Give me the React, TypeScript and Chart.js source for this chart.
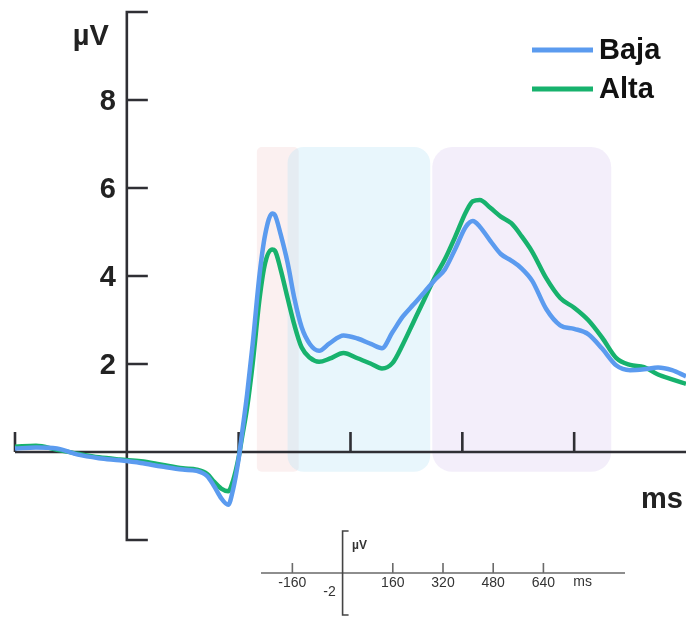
import React, { useEffect, useRef } from "react";
import { Chart, registerables } from "chart.js";

Chart.register(...registerables);

// ---- data (time in ms, amplitude in µV) ----
const times = [
  -160, -130, -100, -70, -40, -10, 20, 50, 80, 100, 115, 125, 135, 145, 152, 160, 165, 172,
  180, 190, 198, 208, 212, 220, 230, 240, 250, 262, 275, 290, 310, 330, 350, 365, 380, 395,
  410, 425, 440, 455, 470, 485, 495, 505, 520, 535, 550, 565, 580, 600, 620, 640, 660, 680,
  700, 720, 740, 760, 780, 800,
];
const baja = [
  0.08, 0.1, 0.08, -0.06, -0.14, -0.19, -0.25, -0.33, -0.4, -0.43, -0.55, -0.78, -1.05, -1.2,
  -0.85, -0.15, 0.45, 1.3, 2.45, 4.05, 4.95, 5.42, 5.38, 4.95, 4.3, 3.47, 2.84, 2.45, 2.3,
  2.47, 2.65, 2.58, 2.45, 2.36, 2.72, 3.08, 3.35, 3.62, 3.9, 4.15, 4.62, 5.12, 5.25, 5.12,
  4.8, 4.5, 4.35, 4.17, 3.89, 3.25, 2.88, 2.8, 2.68, 2.35, 1.97, 1.86, 1.88, 1.92, 1.86, 1.72,
];
const alta = [
  0.12, 0.14, 0.05, -0.04, -0.12, -0.17, -0.21, -0.29, -0.37, -0.4, -0.5, -0.68, -0.83, -0.89,
  -0.65, -0.12, 0.35, 1.0, 2.0, 3.5, 4.3, 4.6, 4.57, 4.15, 3.5, 2.87, 2.38, 2.14, 2.05, 2.12,
  2.25, 2.13, 2.0, 1.9, 2.02, 2.45, 2.95, 3.45, 3.95, 4.38, 4.9, 5.45, 5.7, 5.73, 5.55, 5.35,
  5.2, 4.9, 4.55, 3.95, 3.5, 3.28, 3.0, 2.6, 2.14, 1.98, 1.93, 1.76, 1.65, 1.55,
];
const seriesLabels = ["Baja", "Alta"];
const seriesColors = ["#5b9bef", "#17b26d"];

const yTickValues = [2, 4, 6, 8];
const xTickValues = [-160, 160, 320, 480, 640];

// shaded windows (ms)
const regionStarts = [186, 230, 437];
const regionEnds = [246, 434, 693];
const regionTop = 6.93;
const regionBottom = -0.45;
const regionColors = [
  "rgba(240,200,200,0.28)",
  "rgba(180,225,245,0.30)",
  "rgba(215,200,240,0.30)",
];
const regionRadii = [5, 16, 20];

// scale inset
const insetTicks = [-160, 160, 320, 480, 640];

const BIG_FONT = 'bold 29px "Liberation Sans", Arial, sans-serif';
const AXIS_COLOR = "#2f2f34";

const mainPlugin = {
  id: "erpDecor",
  beforeDatasetsDraw(chart: any) {
    const ctx = chart.ctx;
    const x = chart.scales.x;
    const y = chart.scales.y;
    ctx.save();
    // regions
    for (let i = 0; i < regionStarts.length; i++) {
      const x0 = x.getPixelForValue(regionStarts[i]);
      const x1 = x.getPixelForValue(regionEnds[i]);
      const y0 = y.getPixelForValue(regionTop);
      const y1 = y.getPixelForValue(regionBottom);
      ctx.beginPath();
      ctx.roundRect(x0, y0, x1 - x0, y1 - y0, regionRadii[i]);
      ctx.fillStyle = regionColors[i];
      ctx.fill();
    }
    // axes
    ctx.strokeStyle = AXIS_COLOR;
    ctx.lineWidth = 2.6;
    ctx.lineCap = "butt";
    const y0px = y.getPixelForValue(0);
    ctx.beginPath();
    ctx.moveTo(x.getPixelForValue(x.min), y0px);
    ctx.lineTo(x.getPixelForValue(x.max), y0px);
    for (const v of xTickValues) {
      const px = x.getPixelForValue(v);
      ctx.moveTo(px, y0px);
      ctx.lineTo(px, y0px - 20);
    }
    const ax = x.getPixelForValue(0);
    ctx.moveTo(ax, y.getPixelForValue(y.max));
    ctx.lineTo(ax, y.getPixelForValue(y.min));
    for (const v of [y.min, ...yTickValues, y.max]) {
      const py = y.getPixelForValue(v);
      ctx.moveTo(ax - 1.3, py);
      ctx.lineTo(ax + 21, py);
    }
    ctx.stroke();
    ctx.restore();
  },
  afterDraw(chart: any) {
    const ctx = chart.ctx;
    const x = chart.scales.x;
    const y = chart.scales.y;
    ctx.save();
    ctx.fillStyle = "#222";
    ctx.font = BIG_FONT;
    const ax = x.getPixelForValue(0);
    ctx.textAlign = "right";
    ctx.textBaseline = "middle";
    for (const v of yTickValues) {
      ctx.fillText(String(v), ax - 11, y.getPixelForValue(v) + 2);
    }
    ctx.textAlign = "center";
    ctx.textBaseline = "alphabetic";
    ctx.fillText("µV", ax - 36, 45);
    ctx.textAlign = "right";
    ctx.fillText("ms", chart.chartArea.right - 3, 508);
    // legend
    const ds = chart.data.datasets;
    for (let i = 0; i < ds.length; i++) {
      const ly = 50 + i * 39;
      ctx.strokeStyle = ds[i].borderColor;
      ctx.lineWidth = 5;
      ctx.beginPath();
      ctx.moveTo(532, ly);
      ctx.lineTo(593, ly);
      ctx.stroke();
      ctx.fillStyle = "#111";
      ctx.textAlign = "left";
      ctx.textBaseline = "middle";
      ctx.fillText(ds[i].label, 599, ly + 1);
    }
    ctx.restore();
  },
};

const insetPlugin = {
  id: "insetAxes",
  afterDraw(chart: any) {
    const ctx = chart.ctx;
    const x = chart.scales.x;
    const y = chart.scales.y;
    ctx.save();
    ctx.strokeStyle = "#6a6a6a";
    ctx.lineWidth = 1.6;
    const y0 = y.getPixelForValue(0);
    ctx.beginPath();
    ctx.moveTo(x.getPixelForValue(x.min), y0);
    ctx.lineTo(x.getPixelForValue(x.max), y0);
    for (const v of insetTicks) {
      const px = x.getPixelForValue(v);
      ctx.moveTo(px, y0);
      ctx.lineTo(px, y0 - 10);
    }
    ctx.stroke();
    ctx.strokeStyle = "#444";
    ctx.beginPath();
    const ax = x.getPixelForValue(0);
    ctx.moveTo(ax + 6, y.getPixelForValue(y.max));
    ctx.lineTo(ax, y.getPixelForValue(y.max));
    ctx.lineTo(ax, y.getPixelForValue(y.min));
    ctx.lineTo(ax + 6, y.getPixelForValue(y.min));
    ctx.stroke();
    ctx.fillStyle = "#333";
    ctx.font = '14px "Liberation Sans", Arial, sans-serif';
    ctx.textAlign = "center";
    ctx.textBaseline = "middle";
    for (const v of insetTicks) {
      ctx.fillText(String(v), x.getPixelForValue(v), y.getPixelForValue(-0.5));
    }
    ctx.textAlign = "left";
    ctx.fillText("ms", x.getPixelForValue(735), y.getPixelForValue(-0.45));
    ctx.font = 'bold 12px "Liberation Sans", Arial, sans-serif';
    ctx.fillText("µV", x.getPixelForValue(30), y.getPixelForValue(1.3));
    ctx.font = '14px "Liberation Sans", Arial, sans-serif';
    ctx.textAlign = "right";
    ctx.fillText("-2", x.getPixelForValue(-22), y.getPixelForValue(-0.9));
    ctx.restore();
  },
};

export default function App() {
  const mainRef = useRef<HTMLCanvasElement | null>(null);
  const insetRef = useRef<HTMLCanvasElement | null>(null);

  useEffect(() => {
    const main = new Chart(mainRef.current!, {
      type: "line",
      data: {
        labels: times,
        datasets: [baja, alta].map((vals, i) => ({
          label: seriesLabels[i],
          data: times.map((t, j) => ({ x: t, y: vals[j] })),
          borderColor: seriesColors[i],
          backgroundColor: seriesColors[i],
          borderWidth: 4.5,
          pointRadius: 0,
          cubicInterpolationMode: "monotone" as const,
          fill: false,
          clip: false as any,
        })),
      },
      options: {
        animation: false,
        responsive: false,
        devicePixelRatio: 1,
        layout: { padding: { left: 15, right: 0, top: 12, bottom: 78 } },
        plugins: { legend: { display: false }, tooltip: { enabled: false } },
        events: [],
        scales: {
          x: { type: "linear", min: -160, max: 800, display: false },
          y: { type: "linear", min: -2, max: 10, display: false },
        },
      },
      plugins: [mainPlugin],
    });

    const inset = new Chart(insetRef.current!, {
      type: "line",
      data: { datasets: [] },
      options: {
        animation: false,
        responsive: false,
        devicePixelRatio: 1,
        layout: { padding: { left: 6, right: 20, top: 6, bottom: 3 } },
        plugins: { legend: { display: false }, tooltip: { enabled: false } },
        events: [],
        scales: {
          x: { type: "linear", min: -260, max: 900, display: false },
          y: { type: "linear", min: -2, max: 2, display: false },
        },
      },
      plugins: [insetPlugin],
    });

    return () => {
      main.destroy();
      inset.destroy();
    };
  }, []);

  return (
    <div style={{ position: "absolute", left: 0, top: 0, width: 686, height: 618, background: "#fff" }}>
      <canvas
        ref={mainRef}
        width={686}
        height={618}
        style={{ position: "absolute", left: 0, top: 0, width: 686, height: 618 }}
      />
      <canvas
        ref={insetRef}
        width={390}
        height={93}
        style={{ position: "absolute", left: 255, top: 525, width: 390, height: 93 }}
      />
    </div>
  );
}
